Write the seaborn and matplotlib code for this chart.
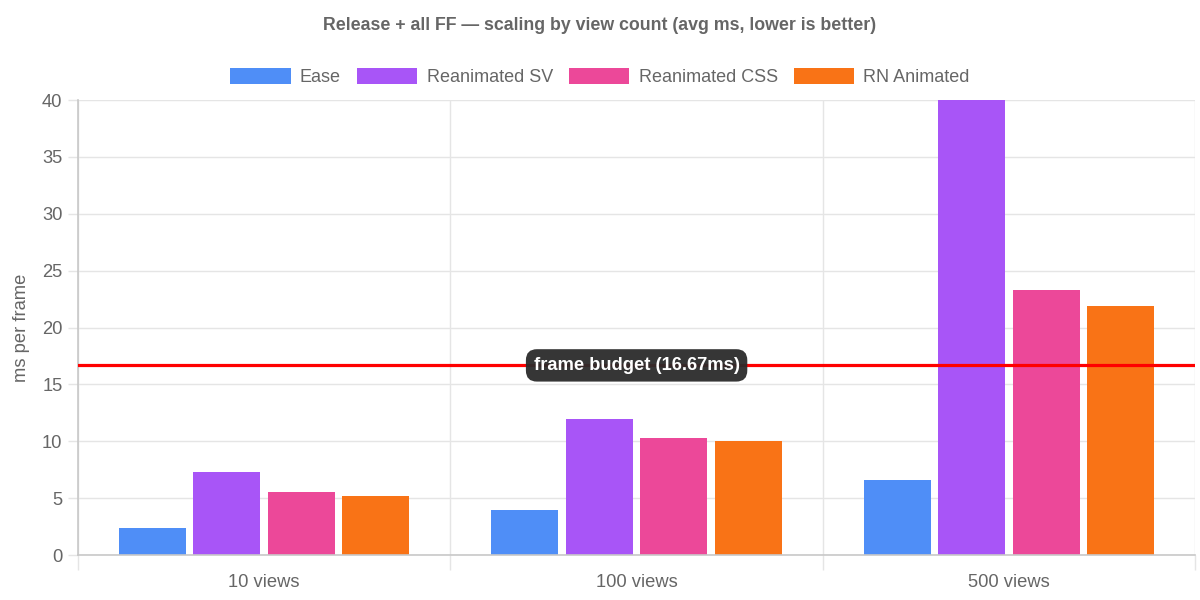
import numpy as np
import pandas as pd
import matplotlib
matplotlib.use("Agg")
import matplotlib.pyplot as plt
import seaborn as sns

# ==========================
# Dane (avg ms per frame)
# ==========================
view_counts = ["10 views", "100 views", "500 views"]
libraries = ["Ease", "Reanimated SV", "Reanimated CSS", "RN Animated"]

ease_ms = [2.35, 3.95, 6.6]
reanimated_sv_ms = [7.3, 12.0, 40.0]
reanimated_css_ms = [5.55, 10.25, 23.3]
rn_animated_ms = [5.2, 10.0, 21.9]

frame_budget = 16.67

colors = ["#4F8EF7", "#A855F7", "#EC4899", "#F97316"]

# tabela w formacie "long" dla seaborn
series = [ease_ms, reanimated_sv_ms, reanimated_css_ms, rn_animated_ms]
df = pd.DataFrame({
    "views": np.tile(view_counts, len(libraries)),
    "library": np.repeat(libraries, len(view_counts)),
    "ms": np.concatenate(series),
})

# ==========================
# Wykres
# ==========================
sns.set_theme(style="white")
plt.rcParams["font.family"] = ["Liberation Sans", "DejaVu Sans"]

text_gray = "#666666"
grid_gray = "#e5e5e5"
axis_gray = "#c8c8c8"
fs = 13.2

fig, ax = plt.subplots(figsize=(12, 6), dpi=100)
fig.subplots_adjust(left=0.065, right=0.996, bottom=0.075, top=0.8333)

sns.barplot(data=df, x="views", y="ms", hue="library", order=view_counts,
            hue_order=libraries, palette=dict(zip(libraries, colors)),
            width=0.8, gap=0.1, linewidth=0, saturation=1, ax=ax, zorder=2)

ax.set_xlim(-0.5, len(view_counts) - 0.5)
ax.set_ylim(0, 40)
ax.set_yticks(range(0, 41, 5))

# siatka jak w Chart.js: pionowe linie na granicach kategorii
ax.set_xticks(np.arange(-0.5, len(view_counts)), minor=True)
ax.grid(which="minor", axis="x", color=grid_gray, lw=1, zorder=0)
ax.grid(which="major", axis="y", color=grid_gray, lw=1, zorder=0)
ax.tick_params(bottom=True, left=True, which="both")
ax.tick_params(axis="x", which="major", length=0, pad=13.5, labelsize=fs, labelcolor=text_gray)
ax.tick_params(axis="x", which="minor", length=10.8, color=grid_gray, width=1)
ax.tick_params(axis="y", length=7.2, color=grid_gray, width=1, pad=4, labelsize=fs, labelcolor=text_gray)

for side in ["top", "right"]:
    ax.spines[side].set_visible(False)
for side in ["left", "bottom"]:
    ax.spines[side].set_color(axis_gray)
    ax.spines[side].set_linewidth(1.2)

ax.set_xlabel("")
ax.set_ylabel("ms per frame", fontsize=fs, color=text_gray, labelpad=9)

# linia budżetu klatki (60 fps)
ax.axhline(frame_budget, color="red", lw=2.3, zorder=3)
ax.text(1.0, frame_budget, f"frame budget ({frame_budget}ms)", ha="center", va="center",
        color="white", fontsize=fs, fontweight="bold", zorder=4,
        bbox=dict(boxstyle="round,pad=0.42,rounding_size=0.6", fc="#2b2b2b", ec="none", alpha=0.95))

# legenda u góry
handles, labels = ax.get_legend_handles_labels()
ax.get_legend().remove()
fig.legend(handles, labels, loc="center", bbox_to_anchor=(0.5, 0.872), ncol=4, frameon=False,
           fontsize=13.0, labelcolor=text_gray, handlelength=3.35, handleheight=1.0,
           handletextpad=0.5, columnspacing=0.9)

fig.suptitle("Release + all FF — scaling by view count (avg ms, lower is better)",
             x=0.5, y=0.958, va="center", fontsize=12.8, fontweight="bold", color=text_gray)

fig.savefig("out.png", dpi=100)
